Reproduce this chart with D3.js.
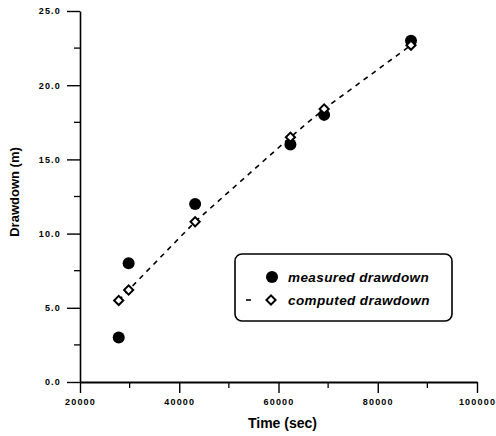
<!DOCTYPE html>
<html>
<head>
<meta charset="utf-8">
<script src="https://cdn.jsdelivr.net/npm/d3@7"></script>
<style>
  body { margin: 0; background: #fff; }
  svg { display: block; }
  .tick text { font-family: Arial, "Liberation Sans", sans-serif; font-weight: bold; font-size: 9px; letter-spacing: 1.2px; }
</style>
</head>
<body>
<div id="chart"></div>
<script>
// data
var timeSec = [27800, 29800, 43200, 62400, 69200, 86700];
var measured = [3.0, 8.0, 12.0, 16.0, 18.0, 23.0];
var computed = [5.5, 6.2, 10.8, 16.5, 18.4, 22.7];
var xTicks = [20000, 40000, 60000, 80000, 100000];
var yTicks = [0, 5, 10, 15, 20, 25];

var W = 496, H = 436;
var margin = {top: 11, right: 19, bottom: 54, left: 80};

var svg = d3.select("#chart").append("svg")
    .attr("width", W)
    .attr("height", H);

var x = d3.scaleLinear().domain([20000, 100000]).range([margin.left, W - margin.right]);
var y = d3.scaleLinear().domain([0, 25]).range([H - margin.bottom, margin.top]);

// minor ticks
var xMinor = d3.range(30000, 100000, 20000);
var yMinor = d3.range(2.5, 25, 5);

svg.append("g")
    .attr("transform", "translate(0," + y(0) + ")")
    .selectAll("line").data(xMinor).enter().append("line")
    .attr("x1", function(d) { return x(d); }).attr("x2", function(d) { return x(d); })
    .attr("y1", 0).attr("y2", 6)
    .attr("stroke", "#000").attr("stroke-width", 1.3);

svg.append("g")
    .attr("transform", "translate(" + x(20000) + ",0)")
    .selectAll("line").data(yMinor).enter().append("line")
    .attr("y1", function(d) { return y(d); }).attr("y2", function(d) { return y(d); })
    .attr("x1", 0).attr("x2", -6)
    .attr("stroke", "#000").attr("stroke-width", 1.3);

// axes
var xAxis = svg.append("g")
    .attr("transform", "translate(0," + y(0) + ")")
    .call(d3.axisBottom(x).tickValues(xTicks).tickFormat(d3.format("d")).tickSize(11).tickPadding(6).tickSizeOuter(0));
xAxis.select(".domain").attr("stroke-width", 2);
xAxis.selectAll(".tick line").attr("stroke-width", 1.4);

var yAxis = svg.append("g")
    .attr("transform", "translate(" + x(20000) + ",0)")
    .call(d3.axisLeft(y).tickValues(yTicks).tickFormat(d3.format(".1f")).tickSize(13).tickPadding(6).tickSizeOuter(0));
yAxis.select(".domain").attr("stroke-width", 1.6);
yAxis.selectAll(".tick line").attr("stroke-width", 1.4);

// axis titles
svg.append("text")
    .attr("x", x(60800)).attr("y", 428)
    .attr("text-anchor", "middle")
    .style("font-family", "Arial, 'Liberation Sans', sans-serif")
    .style("font-weight", "bold").style("font-size", "14px")
    .text("Time (sec)");

svg.append("text")
    .attr("transform", "translate(19,192) rotate(-90)")
    .attr("text-anchor", "middle")
    .style("font-family", "Arial, 'Liberation Sans', sans-serif")
    .style("font-weight", "bold").style("font-size", "13px")
    .text("Drawdown (m)");

// computed line (dashed)
var line = d3.line()
    .x(function(d, i) { return x(timeSec[i]); })
    .y(function(d) { return y(d); });

svg.append("path")
    .datum(computed)
    .attr("d", line)
    .attr("fill", "none")
    .attr("stroke", "#000")
    .attr("stroke-width", 1.6)
    .attr("stroke-dasharray", "5,5");

// measured points
svg.selectAll(".meas").data(measured).enter().append("circle")
    .attr("class", "meas")
    .attr("cx", function(d, i) { return x(timeSec[i]); })
    .attr("cy", function(d) { return y(d); })
    .attr("r", 6)
    .attr("fill", "#000");

// computed diamonds
var diamond = d3.symbol().type(d3.symbolSquare).size(42);
svg.selectAll(".comp").data(computed).enter().append("path")
    .attr("class", "comp")
    .attr("d", diamond)
    .attr("transform", function(d, i) { return "translate(" + x(timeSec[i]) + "," + y(d) + ") rotate(45)"; })
    .attr("fill", "#fff")
    .attr("stroke", "#000")
    .attr("stroke-width", 2);

// legend
var lg = svg.append("g");
lg.append("rect")
    .attr("x", 235).attr("y", 254)
    .attr("width", 217).attr("height", 67)
    .attr("rx", 7)
    .attr("fill", "#fff")
    .attr("stroke", "#000")
    .attr("stroke-width", 1.6);

lg.append("circle")
    .attr("cx", 272).attr("cy", 277).attr("r", 6).attr("fill", "#000");
lg.append("line")
    .attr("x1", 246).attr("x2", 251).attr("y1", 300).attr("y2", 300)
    .attr("stroke", "#000").attr("stroke-width", 1.6);
lg.append("path")
    .attr("d", diamond)
    .attr("transform", "translate(271,300) rotate(45)")
    .attr("fill", "#fff").attr("stroke", "#000").attr("stroke-width", 2);

var legendText = ["measured drawdown", "computed drawdown"];
lg.selectAll(".lt").data(legendText).enter().append("text")
    .attr("x", 288)
    .attr("y", function(d, i) { return 282 + i * 23; })
    .style("font-family", "Arial, 'Liberation Sans', sans-serif")
    .style("font-weight", "bold").style("font-style", "italic")
    .style("font-size", "13.5px")
    .style("letter-spacing", "0.4px")
    .text(function(d) { return d; });
</script>
</body>
</html>
